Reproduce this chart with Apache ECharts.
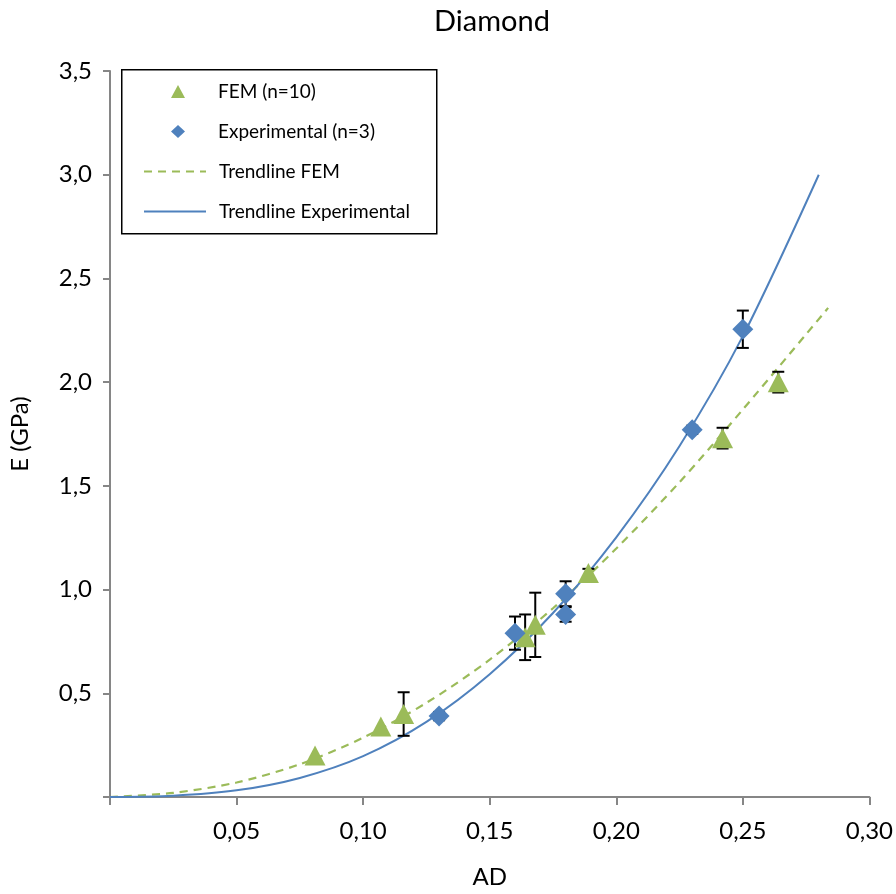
<!DOCTYPE html>
<html>
<head>
<meta charset="utf-8">
<script src="https://cdn.jsdelivr.net/npm/echarts@6/dist/echarts.min.js"></script>
<style>
html,body{margin:0;padding:0;background:#fff;}
#chart{width:896px;height:894px;}
</style>
</head>
<body>
<div id="chart"></div>
<script>
// ---- Data ----
const titleText = 'Diamond';
const xAxisName = 'AD';
const yAxisName = 'E (GPa)';
const seriesNames = ['FEM (n=10)', 'Experimental (n=3)', 'Trendline FEM', 'Trendline Experimental'];

// FEM points (triangles)
const femX   = [0.081, 0.107, 0.116, 0.164, 0.168, 0.189, 0.242, 0.264];
const femY   = [0.20, 0.34, 0.40, 0.77, 0.83, 1.08, 1.73, 2.00];
const femErr = [0.00, 0.00, 0.105, 0.11, 0.155, 0.02, 0.05, 0.05];

// Experimental points (diamonds)
const expX   = [0.13, 0.16, 0.18, 0.18, 0.23, 0.25];
const expY   = [0.39, 0.79, 0.98, 0.88, 1.77, 2.255];
const expErr = [0.02, 0.08, 0.06, 0.035, 0.02, 0.09];

// Trendlines
const trendFemX = [0, 0.025, 0.05, 0.075, 0.10, 0.125, 0.15, 0.175, 0.20, 0.225, 0.25, 0.2837];
const trendFemY = [0, 0.02, 0.07, 0.158, 0.286, 0.454, 0.662, 0.91, 1.198, 1.518, 1.868, 2.358];
const trendExpX = [0, 0.025, 0.05, 0.075, 0.10, 0.125, 0.15, 0.175, 0.20, 0.225, 0.25, 0.28];
const trendExpY = [0, 0.006, 0.032, 0.092, 0.197, 0.362, 0.592, 0.887, 1.252, 1.692, 2.222, 3.0];

// Axis ticks
const xMin = 0, xMax = 0.30, xStep = 0.05;
const yMin = 0, yMax = 3.5, yStep = 0.5;

// ---- Build ----
const zip = (a, b) => a.map((v, i) => [v, b[i]]);
const errData = (xs, ys, es) => xs.map((x, i) => [x, ys[i] - es[i], ys[i] + es[i]]);

const GREEN = '#9BBB59';
const BLUE = '#4F81BD';
const AXIS = '#868686';
const FONT = 'Lato, "Open Sans", sans-serif';

function errRender(params, api) {
  const x = api.value(0), lo = api.value(1), hi = api.value(2);
  if (hi - lo <= 0) return null;
  const a = api.coord([x, lo]), b = api.coord([x, hi]);
  const hw = 6;
  const st = { stroke: '#000', lineWidth: 2 };
  return {
    type: 'group',
    children: [
      { type: 'line', shape: { x1: a[0], y1: a[1], x2: b[0], y2: b[1] }, style: st },
      { type: 'line', shape: { x1: a[0] - hw, y1: a[1], x2: a[0] + hw, y2: a[1] }, style: st },
      { type: 'line', shape: { x1: b[0] - hw, y1: b[1], x2: b[0] + hw, y2: b[1] }, style: st }
    ]
  };
}

const chart = echarts.init(document.getElementById('chart'), null, { renderer: 'canvas' });

const legendText = { fontFamily: FONT, fontSize: 19, color: '#000' };

const option = {
  backgroundColor: '#fff',
  animation: false,
  textStyle: { fontFamily: FONT },
  title: {
    text: titleText,
    left: 487,
    textAlign: 'center',
    top: 2,
    textStyle: { fontFamily: FONT, fontSize: 29, fontWeight: 'normal', color: '#000' }
  },
  graphic: [{
    type: 'rect',
    left: 121, top: 69,
    shape: { width: 315, height: 164 },
    style: { fill: '#fff', stroke: '#000', lineWidth: 1.5 },
    z: 50
  }],
  legend: [
    {
      data: [
        { name: seriesNames[0], icon: 'triangle' },
        { name: seriesNames[1], icon: 'diamond' }
      ],
      orient: 'vertical',
      left: 171,
      top: 82,
      itemWidth: 14,
      itemHeight: 13,
      itemGap: 21,
      padding: 0,
      z: 60,
      selectedMode: false,
      textStyle: Object.assign({ padding: [0, 0, 0, 28] }, legendText)
    },
    {
      data: [
        { name: seriesNames[2] },
        { name: seriesNames[3] }
      ],
      orient: 'vertical',
      left: 143,
      top: 162,
      itemWidth: 62,
      itemHeight: 13,
      itemGap: 21,
      padding: 0,
      z: 60,
      selectedMode: false,
      itemStyle: { color: 'rgba(0,0,0,0)', borderWidth: 0, opacity: 0 },
      textStyle: Object.assign({ padding: [0, 0, 0, 8] }, legendText)
    }
  ],
  grid: { left: 107, right: 26, top: 71, bottom: 97, containLabel: false },
  xAxis: {
    type: 'value',
    min: xMin, max: xMax, interval: xStep,
    name: xAxisName,
    nameLocation: 'middle',
    nameGap: 68,
    nameTextStyle: { fontFamily: FONT, fontSize: 24, color: '#000' },
    axisLine: { show: true, onZero: false, lineStyle: { color: AXIS, width: 2 } },
    axisTick: { show: true, inside: false, length: 8, lineStyle: { color: AXIS, width: 2 } },
    axisLabel: {
      margin: 22, fontFamily: FONT, fontSize: 24, color: '#000',
      formatter: v => (Math.abs(v) < 1e-9 ? '' : v.toFixed(2).replace('.', ','))
    },
    splitLine: { show: false }
  },
  yAxis: {
    type: 'value',
    min: yMin, max: yMax, interval: yStep,
    name: yAxisName,
    nameLocation: 'middle',
    nameGap: 78,
    nameRotate: 90,
    nameTextStyle: { fontFamily: FONT, fontSize: 24, color: '#000' },
    axisLine: { show: true, onZero: false, lineStyle: { color: AXIS, width: 2 } },
    axisTick: { show: true, inside: false, length: 7, lineStyle: { color: AXIS, width: 2 } },
    axisLabel: {
      margin: 18, fontFamily: FONT, fontSize: 24, color: '#000',
      formatter: v => (Math.abs(v) < 1e-9 ? '' : v.toFixed(1).replace('.', ','))
    },
    splitLine: { show: false }
  },
  series: [
    {
      name: seriesNames[2],
      type: 'line',
      data: zip(trendFemX, trendFemY),
      smooth: 0.3,
      symbol: 'none',
      z: 2,
      lineStyle: { color: GREEN, width: 2.2, type: [8, 6] },
      itemStyle: { color: GREEN }
    },
    {
      name: seriesNames[3],
      type: 'line',
      data: zip(trendExpX, trendExpY),
      smooth: 0.3,
      symbol: 'none',
      z: 2,
      lineStyle: { color: BLUE, width: 2, type: 'solid' },
      itemStyle: { color: BLUE }
    },
    {
      name: 'femErr',
      type: 'custom',
      renderItem: errRender,
      data: errData(femX, femY, femErr),
      encode: { x: 0, y: [1, 2] },
      z: 3,
      silent: true
    },
    {
      name: 'expErr',
      type: 'custom',
      renderItem: errRender,
      data: errData(expX, expY, expErr),
      encode: { x: 0, y: [1, 2] },
      z: 3,
      silent: true
    },
    {
      name: seriesNames[0],
      type: 'scatter',
      data: zip(femX, femY),
      symbol: 'triangle',
      symbolSize: [21, 20],
      z: 4,
      itemStyle: { color: GREEN, opacity: 1 }
    },
    {
      name: seriesNames[1],
      type: 'scatter',
      data: zip(expX, expY),
      symbol: 'diamond',
      symbolSize: [21, 21],
      z: 5,
      itemStyle: { color: BLUE, opacity: 1 }
    }
  ]
};

chart.setOption(option);
</script>
</body>
</html>
